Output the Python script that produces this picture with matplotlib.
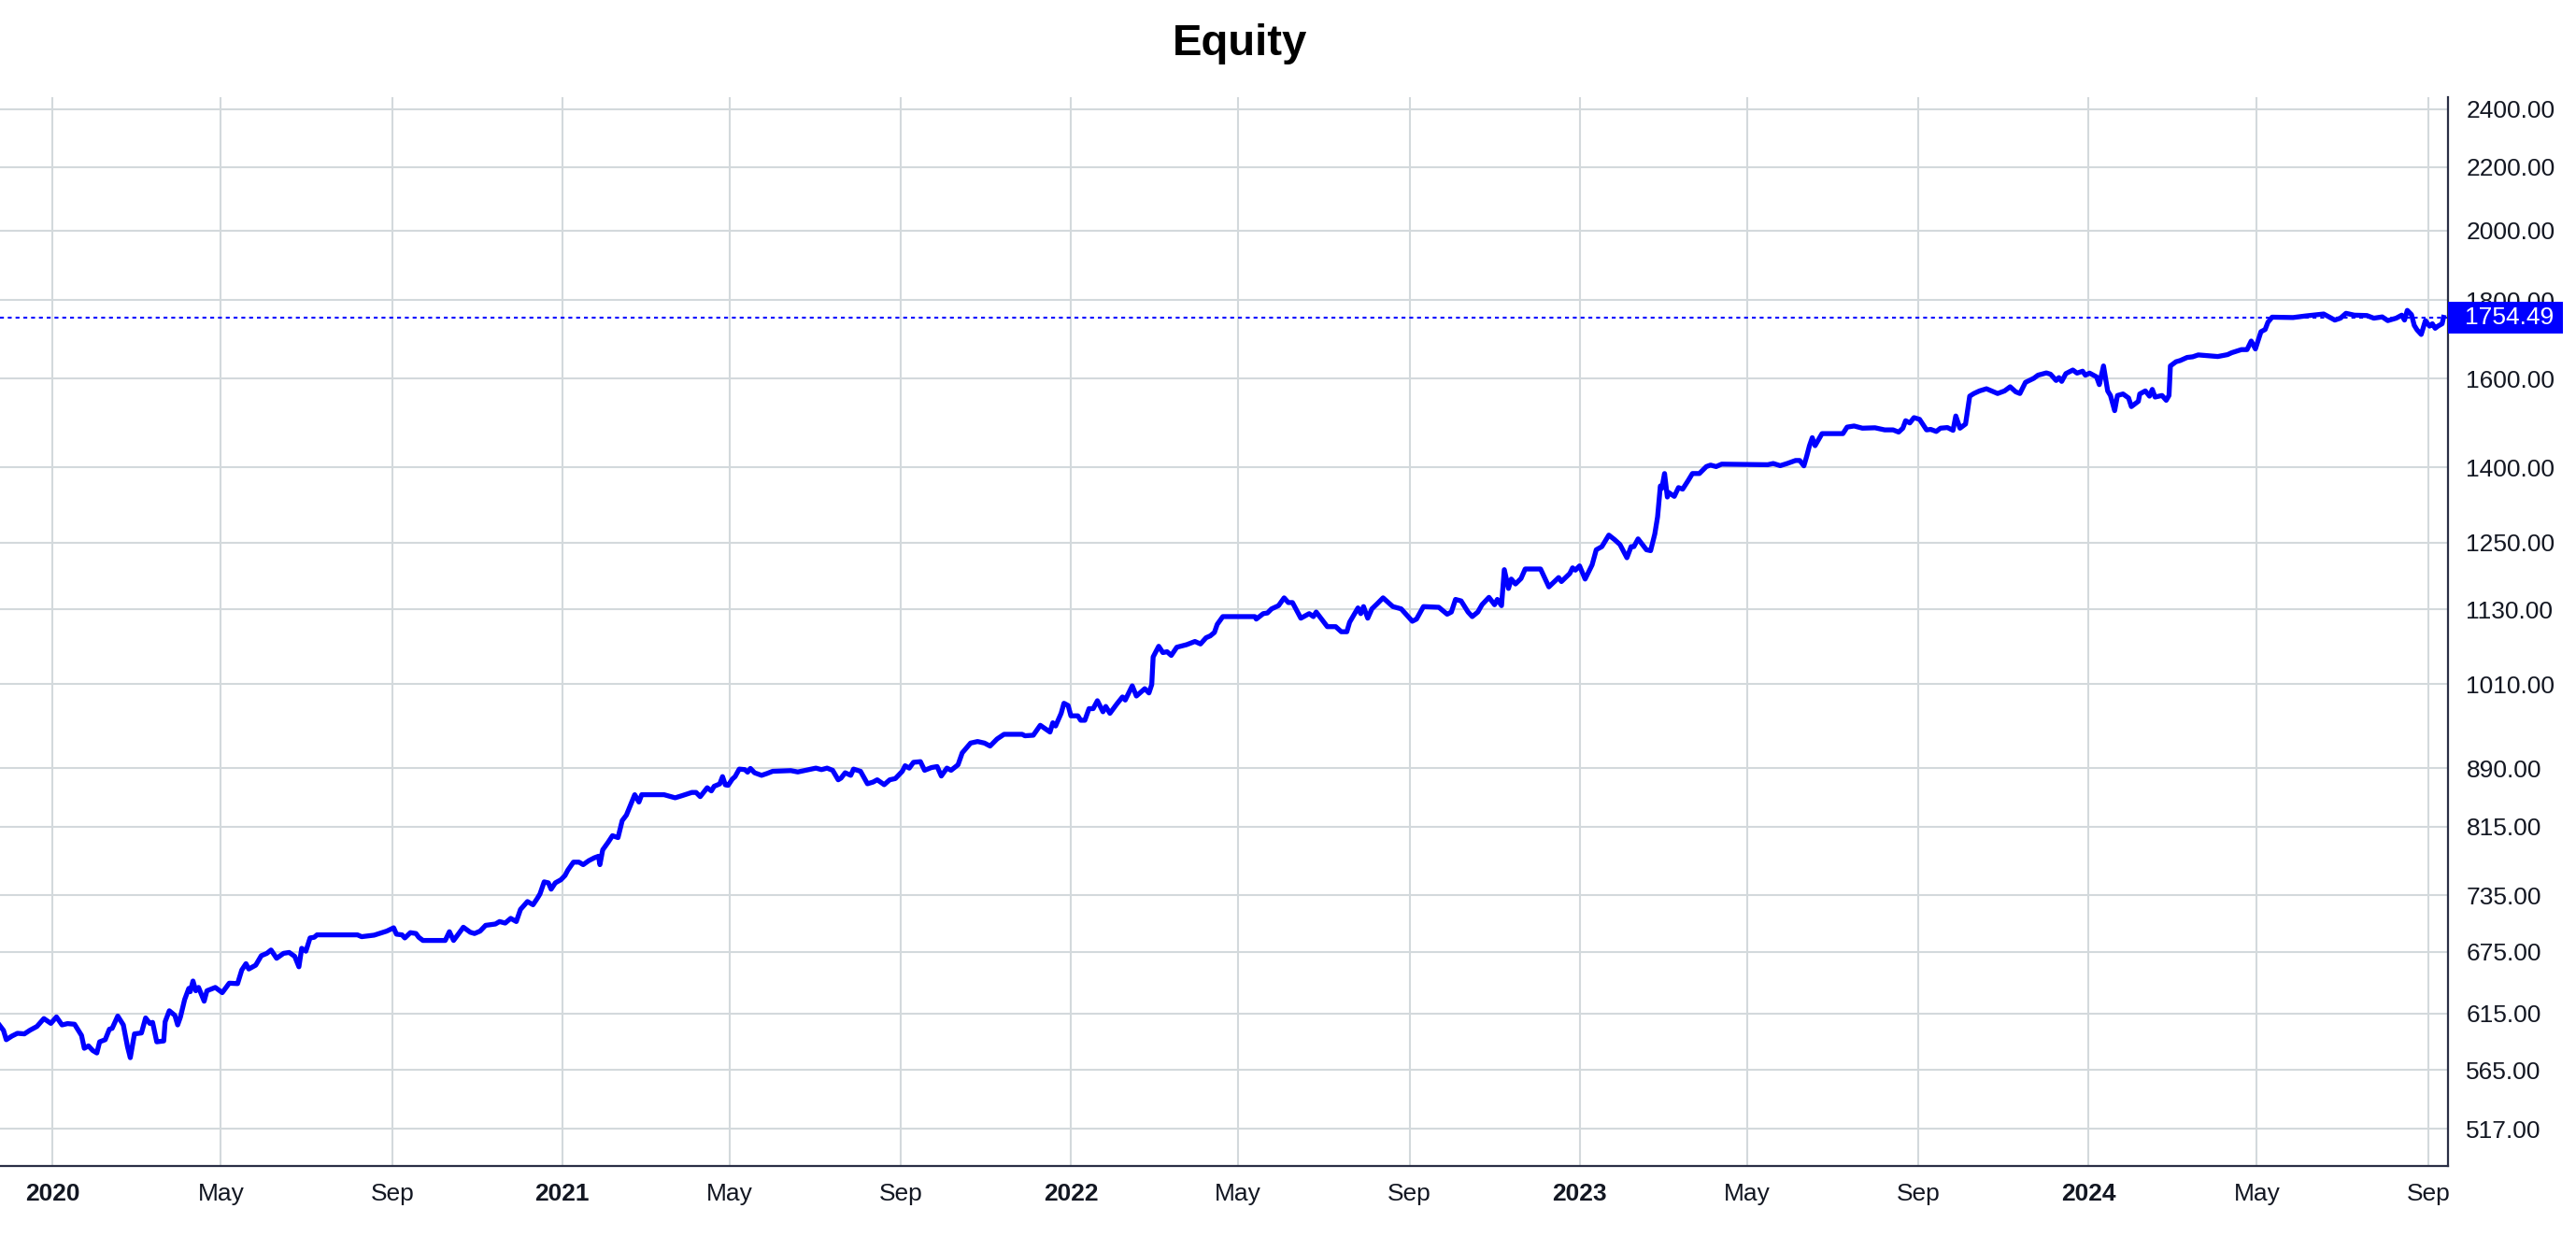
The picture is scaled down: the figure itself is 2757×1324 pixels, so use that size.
import numpy as np
import matplotlib
matplotlib.use("Agg")
import matplotlib.pyplot as plt
from matplotlib.patches import Rectangle

plt.rcParams['font.family'] = ['Liberation Sans', 'DejaVu Sans']

# equity curve: days after 2020-01-01 and account value
start = np.datetime64('2020-01-01')

day_offsets = [
    -38, -35, -33, -29, -25, -20, -16, -11, -6, -1,
    3, 7, 11, 16, 21, 23, 26, 29, 32, 34,
    38, 41, 43, 47, 51, 54, 56, 59, 64, 67,
    70, 72, 75, 80, 81, 84, 88, 90, 92, 95,
    98, 99, 101, 103, 105, 109, 111, 117, 122, 127,
    133, 136, 139, 141, 146, 150, 154, 157, 161, 166,
    170, 174, 177, 179, 182, 185, 188, 190, 219, 222,
    231, 240, 245, 247, 251, 253, 257, 261,
    263, 266, 282, 285, 288, 291, 295, 300, 303, 307,
    311, 318, 321, 325, 329, 333, 336, 341, 345, 348,
    350, 353, 356, 358, 361, 365, 368, 370, 374, 378,
    381, 385, 389, 392, 393, 395, 399, 402, 406, 409,
    412, 415, 418, 421, 423, 439, 447, 452, 459, 462,
    465, 470, 473, 475, 479, 481, 483, 485, 488, 490,
    493, 497, 499, 501, 504, 509, 513, 517, 530, 535,
    548, 552, 556, 560, 564, 566,
    569, 573, 575, 580, 585, 589, 592, 597, 601, 605,
    610, 612, 615, 618, 623, 626, 631, 635, 638, 642,
    645, 650, 653, 659, 664, 669, 673, 678, 683, 696,
    698, 704, 709, 716, 718, 720, 724, 726, 729, 731,
    736, 738, 741, 744, 747, 750, 754, 756, 759, 764,
    768, 770, 775, 778, 784, 787, 789, 790, 794, 797,
    800, 803, 807, 814, 820, 824, 828, 831, 834, 836,
    840, 861,
    863, 864, 869, 872, 875, 880, 884, 887, 890, 893,
    896, 902, 905, 907, 915, 921, 925, 929, 931, 937,
    939, 941, 944, 947, 951, 955, 962, 968, 976, 979,
    984, 995, 1001, 1004, 1007, 1011, 1016, 1019, 1023, 1026,
    1031, 1035, 1037, 1040, 1042, 1045, 1047, 1050, 1054, 1057,
    1068, 1074, 1081, 1083, 1089, 1091, 1093, 1096, 1100, 1105,
    1108, 1112, 1117, 1121, 1125, 1130, 1133, 1135, 1138, 1144,
    1147, 1150, 1152,
    1154, 1155, 1157, 1159, 1160, 1164, 1167, 1170, 1174, 1177,
    1182, 1187, 1190, 1194, 1198, 1231, 1235, 1240, 1245, 1251,
    1254, 1257, 1259, 1261, 1263, 1265, 1270, 1285, 1288, 1293,
    1299, 1308, 1315, 1321, 1325, 1328, 1330, 1333, 1336, 1340,
    1345, 1348, 1352, 1355, 1360, 1364, 1366, 1369, 1373, 1376,
    1379, 1383, 1388, 1396, 1401, 1405, 1409, 1412, 1416, 1422,
    1425, 1431, 1434, 1438, 1440,
    1442, 1445, 1450, 1453, 1457, 1459, 1462, 1467, 1469, 1472,
    1475, 1477, 1480, 1482, 1486, 1490, 1492, 1497, 1498, 1502,
    1505, 1507, 1509, 1514, 1517, 1519, 1520, 1524, 1527, 1532,
    1536, 1540, 1554, 1561, 1564, 1571, 1575, 1578, 1581, 1585,
    1588, 1590, 1593, 1608, 1617, 1630, 1638, 1642, 1646, 1652,
    1661, 1666, 1672, 1676, 1682, 1686, 1688, 1690, 1693, 1695,
    1697, 1700, 1703, 1706, 1708, 1710, 1712, 1715, 1716,
]

equity = [
    604.5, 599.5, 591.2, 594.4, 596.9, 596.4, 599.7, 603.1, 610.3, 605.9,
    611.8, 604.5, 605.7, 605.1, 595.0, 583.6, 585.7, 581.7, 579.5, 589.3,
    591.2, 600.6, 601.4, 612.6, 604.5, 585.0, 575.4, 596.4, 597.2, 610.9,
    605.9, 606.8, 589.3, 590.1, 607.4, 617.5, 613.2, 604.5, 611.8, 628.0,
    638.7, 635.5, 645.8, 636.4, 639.6, 626.5, 636.4, 639.6, 634.6, 643.7,
    643.3, 656.6, 662.9, 657.6, 661.4, 670.9, 673.3, 676.7, 668.3, 673.3,
    674.2, 670.2, 659.8, 678.4, 675.5, 689.1, 689.8, 692.3, 692.3, 690.4,
    692.0, 696.2, 699.7, 693.0, 692.3, 689.1, 694.6, 693.7,
    689.8, 686.5, 686.5, 695.6, 686.5, 692.3, 700.3, 695.0, 693.7, 696.2,
    702.3, 703.7, 706.3, 704.7, 709.7, 706.3, 719.3, 727.9, 724.4, 731.2,
    736.3, 749.8, 748.7, 741.6, 748.7, 752.2, 757.1, 763.2, 772.4, 772.4,
    769.5, 774.1, 777.5, 779.3, 769.5, 786.8, 796.1, 803.8, 801.5, 822.3,
    829.1, 842.0, 855.0, 845.6, 855.0, 855.0, 851.0, 853.8, 857.9, 857.9,
    852.5, 864.0, 859.9, 865.9, 869.0, 878.6, 867.8, 867.1, 875.3, 878.6,
    888.6, 887.9, 884.5, 889.5, 883.7, 880.3, 882.8, 885.7, 886.6, 884.8,
    889.9, 887.9, 889.9, 887.0, 874.4, 876.6,
    883.7, 880.3, 888.6, 885.7, 869.2, 871.4, 874.4, 868.0, 874.4, 876.0,
    885.7, 893.1, 889.9, 897.7, 898.6, 887.0, 890.7, 892.0, 879.4, 889.9,
    887.0, 894.4, 910.6, 924.1, 926.3, 924.1, 920.0, 929.8, 936.4, 936.4,
    934.3, 935.1, 949.2, 939.6, 952.8, 948.2, 966.5, 981.2, 977.9, 962.8,
    962.8, 956.4, 956.4, 973.3, 973.3, 985.0, 968.7, 976.5, 966.5, 980.3,
    990.6, 986.0, 1007.3, 992.0, 1003.0, 996.6, 1009.2, 1052.1, 1069.1, 1059.0,
    1060.4, 1054.5, 1067.6, 1071.7, 1076.9, 1072.9, 1083.0, 1086.0, 1091.7, 1105.0,
    1118.0, 1118.0,
    1118.0, 1113.8, 1123.0, 1124.1, 1131.1, 1136.6, 1150.0, 1141.9, 1141.9, 1128.5,
    1115.3, 1123.0, 1118.0, 1125.7, 1101.2, 1101.2, 1092.8, 1092.8, 1108.6, 1132.7,
    1123.0, 1135.0, 1115.3, 1131.1, 1140.3, 1150.0, 1135.0, 1131.1, 1110.2, 1113.8,
    1135.0, 1133.8, 1122.0, 1125.7, 1147.3, 1144.7, 1125.7, 1118.0, 1125.7, 1138.2,
    1150.9, 1138.2, 1147.3, 1136.6, 1199.9, 1166.4, 1183.0, 1174.3, 1184.0, 1201.1,
    1201.1, 1169.2, 1185.7, 1178.6, 1193.0, 1203.2, 1199.0, 1206.7, 1183.0, 1208.5,
    1236.4, 1242.2, 1264.0, 1255.7, 1246.2, 1221.6, 1242.2, 1242.2, 1256.8, 1236.4,
    1234.7, 1266.0, 1299.2,
    1361.0, 1356.0, 1386.8, 1338.6, 1347.6, 1339.9, 1357.7, 1354.6, 1372.4, 1386.8,
    1386.8, 1401.4, 1404.5, 1401.4, 1406.5, 1405.3, 1407.9, 1403.3, 1407.9, 1414.3,
    1414.3, 1402.9, 1423.2, 1446.2, 1463.7, 1446.2, 1472.7, 1472.7, 1487.2, 1489.7,
    1484.8, 1485.7, 1481.0, 1481.0, 1476.1, 1484.8, 1501.6, 1496.6, 1508.6, 1504.7,
    1481.0, 1482.1, 1477.5, 1484.8, 1486.2, 1480.0, 1512.3, 1484.8, 1494.1, 1558.2,
    1564.4, 1570.5, 1575.6, 1564.4, 1570.5, 1580.3, 1568.4, 1564.4, 1590.9, 1600.7,
    1608.2, 1613.7, 1610.5, 1595.4, 1602.3,
    1593.2, 1612.0, 1620.7, 1613.2, 1617.8, 1608.2, 1613.2, 1604.1, 1585.5, 1630.7,
    1570.5, 1559.7, 1524.5, 1559.7, 1563.3, 1553.8, 1533.9, 1546.1, 1563.3, 1570.5,
    1558.2, 1574.1, 1556.1, 1559.7, 1548.5, 1559.7, 1630.7, 1641.0, 1644.0, 1651.7,
    1653.3, 1658.0, 1654.0, 1658.7, 1663.5, 1671.3, 1671.3, 1693.0, 1673.0, 1717.0,
    1722.7, 1741.7, 1755.0, 1754.0, 1758.2, 1763.4, 1747.3, 1752.3, 1765.2, 1760.3,
    1759.3, 1752.3, 1755.7, 1745.9, 1752.3, 1760.3, 1747.3, 1773.0, 1761.7, 1733.5,
    1721.7, 1709.9, 1745.9, 1731.5, 1737.7, 1725.8, 1731.5, 1737.7, 1754.49,
]

last_value = 1754.49

y_ticks = [517, 565, 615, 675, 735, 815, 890, 1010, 1130, 1250,
           1400, 1600, 1800, 2000, 2200, 2400]

x_tick_dates = ['2020-01-01', '2020-05-01', '2020-09-01',
                '2021-01-01', '2021-05-01', '2021-09-01',
                '2022-01-01', '2022-05-01', '2022-09-01',
                '2023-01-01', '2023-05-01', '2023-09-01',
                '2024-01-01', '2024-05-01', '2024-09-01']
x_tick_labels = ['2020', 'May', 'Sep', '2021', 'May', 'Sep', '2022', 'May', 'Sep',
                 '2023', 'May', 'Sep', '2024', 'May', 'Sep']

dates = start + np.array(day_offsets, dtype='timedelta64[D]')

W, H = 2757, 1324
fig = plt.figure(figsize=(W / 100, H / 100), dpi=100)
ax_left, ax_right, ax_top, ax_bottom = 0, 2620, 104, 1248
ax = fig.add_axes([ax_left / W, 1 - ax_bottom / H,
                   (ax_right - ax_left) / W, (ax_bottom - ax_top) / H])

ax.set_yscale('log')
ymin, ymax = 488.8, 2444.3
ax.set_ylim(ymin, ymax)

ax.plot(dates, equity, color='#0000ff', lw=3.8, solid_joinstyle='round', zorder=3)
ax.axhline(last_value, color='#0000ff', lw=1.5, ls=(0, (2, 2)), zorder=2)

ax.set_xlim(np.datetime64('2019-11-24T12:00'), np.datetime64('2024-09-15T05:00'))
ax.set_xticks(np.array(x_tick_dates, dtype='datetime64[D]'))
ax.set_xticklabels(x_tick_labels)
for lab in ax.get_xticklabels():
    if lab.get_text().isdigit():
        lab.set_fontweight('bold')

ax.yaxis.tick_right()
ax.set_yticks(y_ticks)
ax.set_yticks([], minor=True)
ax.set_yticklabels([f'{v:.2f}' for v in y_ticks])

ax.tick_params(axis='y', length=0, pad=14, labelsize=19, labelcolor='#131722')
ax.tick_params(axis='x', length=0, pad=13, labelsize=19, labelcolor='#131722')

ax.grid(True, color='#d3d9dc', lw=1.5)
ax.set_axisbelow(True)
for side in ['top', 'left']:
    ax.spines[side].set_visible(False)
for side in ['right', 'bottom']:
    ax.spines[side].set_color('#2a2e45')
    ax.spines[side].set_linewidth(1.6)

# last value badge on the price scale
frac = (np.log(last_value) - np.log(ymin)) / (np.log(ymax) - np.log(ymin))
box_h = 34 / (ax_bottom - ax_top)
box_w = 123 / (ax_right - ax_left)
ax.add_patch(Rectangle((1.0, frac - box_h / 2), box_w, box_h, transform=ax.transAxes,
                       facecolor='#0000ff', edgecolor='none', clip_on=False, zorder=10))
ax.text(1.0 + 18 / (ax_right - ax_left), frac, f'{last_value:.2f}', transform=ax.transAxes,
        color='white', fontsize=19, ha='left', va='center', clip_on=False, zorder=11)

fig.text(1327 / W, 1 - 47 / H, 'Equity', ha='center', va='center',
         fontsize=34, fontweight='bold', color='black')

fig.savefig('out.png', dpi=100, facecolor='white')
